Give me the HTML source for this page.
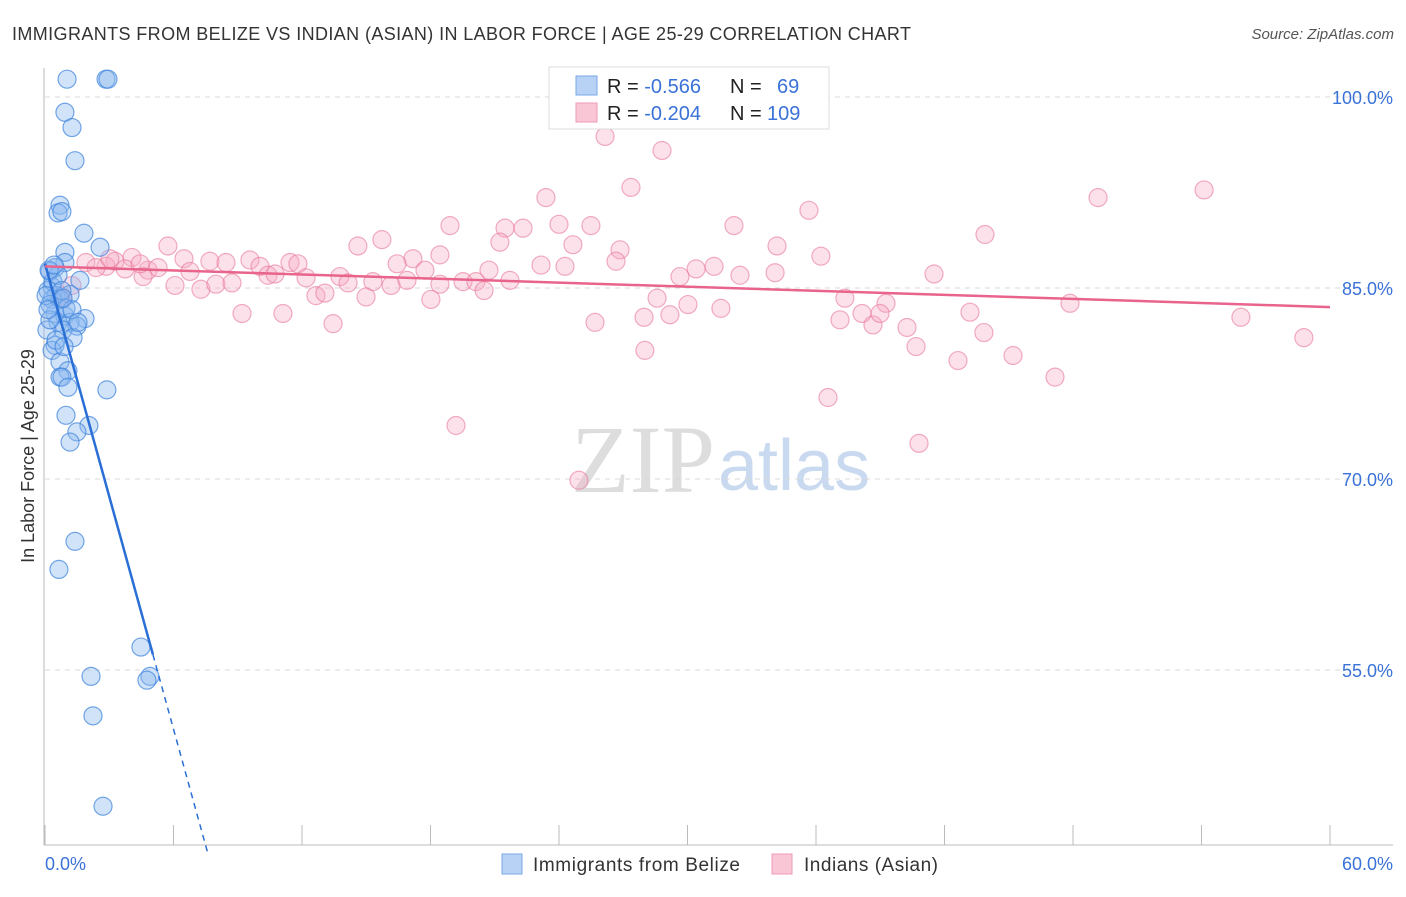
<!DOCTYPE html>
<html><head><meta charset="utf-8"><style>
body{margin:0;background:#fff;font-family:"Liberation Sans",sans-serif;}
svg text{font-family:"Liberation Sans",sans-serif;}
</style></head><body>
<svg id="chart" width="1406" height="892">
<text x="12" y="40" font-size="18" fill="#333" textLength="899" lengthAdjust="spacing">IMMIGRANTS FROM BELIZE VS INDIAN (ASIAN) IN LABOR FORCE | AGE 25-29 CORRELATION CHART</text>
<text x="1394" y="39" font-size="15" fill="#555" text-anchor="end" font-style="italic">Source: ZipAtlas.com</text>
<text x="715" y="492" font-size="96" fill="#ddd" text-anchor="end" style="font-family:'Liberation Serif',serif">ZIP</text>
<text x="718" y="490" font-size="72" fill="#c9daf0">atlas</text>
<g id="grid"></g>
<g id="axes"></g>
<g id="marks"></g>
<text transform="translate(34,456) rotate(-90)" font-size="18" fill="#333" text-anchor="middle">In Labor Force | Age 25-29</text>
<text x="45" y="870" font-size="18" fill="#3a72d8">0.0%</text>
<text x="1393" y="870" font-size="18" fill="#3a72d8" text-anchor="end">60.0%</text>
<g>
<rect x="549" y="67" width="280" height="62" fill="#fff" stroke="#ddd"/>
<rect x="576" y="76" width="21" height="19" fill="#b8d2f5" stroke="#7aa8e8"/>
<rect x="576" y="103" width="21" height="19" fill="#f9c6d6" stroke="#ee9ab5"/>
<text x="607" y="93" font-size="20" fill="#222">R = <tspan fill="#3a72d8">-0.566</tspan><tspan x="730">N = </tspan><tspan x="777" fill="#3a72d8">69</tspan></text>
<text x="607" y="120" font-size="20" fill="#222">R = <tspan fill="#3a72d8">-0.204</tspan><tspan x="730">N = </tspan><tspan x="767" fill="#3a72d8">109</tspan></text>
</g>
<g>
<rect x="502" y="854" width="20" height="20" fill="#b8d2f5" stroke="#7aa8e8"/>
<text x="533" y="871" font-size="19" fill="#333" textLength="207">Immigrants from Belize</text>
<rect x="772" y="854" width="20" height="20" fill="#f9c6d6" stroke="#ee9ab5"/>
<text x="804" y="871" font-size="19" fill="#333" textLength="134">Indians (Asian)</text>
</g>
</svg>
<script>
const yTicks=[100,85,70,55];
const yTickLabels=["100.0%","85.0%","70.0%","55.0%"];
const xTicks=[0,6,12,18,24,30,36,42,48,54,60];
const blueX=[1.03,2.85,2.94,0.93,1.26,1.40,0.70,0.61,0.79,1.82,2.57,0.93,0.93,0.47,1.63,0.23,0.33,0.51,1.17,0.33,0.70,0.47,0.93,1.87,0.61,1.17,1.49,0.84,1.31,0.47,0.33,0.70,1.07,0.70,0.79,1.07,2.89,0.98,2.05,1.49,1.17,1.40,0.65,4.48,2.15,4.90,4.76,2.24,2.71,0.14,0.23,0.09,0.23,0.37,0.61,0.05,0.19,0.79,0.98,1.26,1.54,0.51,0.89,0.14,0.42,0.84];
const blueY=[101.4,101.4,101.4,98.8,97.6,95.0,91.5,90.9,91.0,89.3,88.2,87.8,87.0,86.6,85.6,86.3,85.1,84.4,84.5,84.1,84.1,83.0,82.8,82.6,82.3,82.3,82.0,81.7,81.1,80.5,80.1,79.2,78.5,78.0,78.0,77.2,77.0,75.0,74.2,73.7,72.9,65.1,62.9,56.8,54.5,54.5,54.2,51.4,44.3,84.8,83.7,81.7,82.5,85.5,86.0,84.4,86.4,84.8,83.4,83.3,82.3,80.9,80.4,83.3,86.8,84.2];
const pinkX=[26.15,28.81,27.36,23.39,49.17,54.12,35.67,18.91,24.0,25.49,32.17,21.48,22.32,43.89,21.24,15.73,14.61,24.65,5.74,34.18,26.85,18.44,17.18,36.23,26.66,1.91,4.06,3.27,2.85,6.49,7.70,8.45,9.57,10.04,11.44,11.81,16.44,17.74,23.16,24.28,31.24,30.40,20.73,32.45,34.09,41.51,3.74,4.81,5.28,6.77,4.58,10.41,10.74,12.19,13.77,14.15,15.31,16.16,16.90,19.52,20.12,20.50,21.71,29.65,6.07,7.28,7.98,8.73,12.65,13.07,14.99,18.44,18.02,28.58,30.02,37.35,39.27,47.86,9.20,11.11,13.45,25.68,27.97,29.18,31.56,37.12,38.15,38.66,38.99,40.25,43.19,55.84,43.84,40.67,28.01,58.78,42.63,45.20,47.16,36.56,19.19,40.81,24.93,2.38,1.26,0.70,0.79,3.03,4.44];
const pinkY=[96.9,95.8,92.9,92.1,92.1,92.7,91.1,89.9,90.0,89.9,89.9,89.7,89.7,89.2,88.6,88.8,88.3,88.4,88.3,88.3,88.0,87.6,87.3,87.5,87.1,87.0,87.4,87.1,86.7,87.3,87.1,87.0,87.2,86.7,87.0,86.9,86.9,86.4,86.8,86.7,86.7,86.5,86.4,86.0,86.2,86.1,86.5,86.4,86.6,86.3,85.9,86.0,86.1,85.8,85.9,85.4,85.5,85.2,85.6,85.5,85.5,84.8,85.6,85.9,85.2,84.9,85.3,85.4,84.4,84.6,84.3,85.3,84.1,84.2,83.7,84.2,83.8,83.8,83.0,83.0,82.2,82.3,82.7,82.9,83.4,82.5,83.0,82.1,83.0,81.9,83.1,82.7,81.5,80.4,80.1,81.1,79.3,79.7,78.0,76.4,74.2,72.8,69.9,86.6,85.2,84.4,84.1,87.3,86.9];
const blueTrend=[86.9,-6.09];
const pinkTrend=[86.7,-0.0533];
const X0=45,X1=1330,YB=845;
const sx=v=>X0+v/60*(X1-X0);
const sy=v=>97+(100-v)*191/15;
const ns="http://www.w3.org/2000/svg";
function mk(tag,attrs,parent){const e=document.createElementNS(ns,tag);for(const k in attrs)e.setAttribute(k,attrs[k]);parent.appendChild(e);return e;}
const grid=document.getElementById('grid'),axes=document.getElementById('axes'),marks=document.getElementById('marks');
yTicks.forEach((t,i)=>{
 const l=mk('line',{x1:45,x2:1393,y1:sy(t),y2:sy(t),stroke:'#d8d8d8','stroke-dasharray':'5,5'},grid);
 
 
 const tx=mk('text',{x:1393,y:sy(t)+7,'font-size':18,fill:'#3a72d8','text-anchor':'end'},grid);
 tx.textContent=yTickLabels[i];
 
 
});
const ya=mk('line',{x1:44,x2:44,y1:68,y2:YB,stroke:'#bbb'},axes);


const xa=mk('line',{x1:44,x2:1393,y1:YB,y2:YB,stroke:'#bbb'},axes);


xTicks.forEach(t=>{
 const l=mk('line',{x1:sx(t),x2:sx(t),y1:825,y2:YB,stroke:'#bbb'},axes);
 
 
});
pinkX.forEach((x,i)=>{
 const c=mk('circle',{cx:sx(x),cy:sy(pinkY[i]),r:9,fill:'rgba(246,170,195,0.35)',stroke:'rgba(232,120,155,0.6)','stroke-width':1.2},marks);
 
 
});
blueX.forEach((x,i)=>{
 const c=mk('circle',{cx:sx(x),cy:sy(blueY[i]),r:9,fill:'rgba(140,185,240,0.4)',stroke:'rgba(60,130,220,0.7)','stroke-width':1.2},marks);
 
 
});
const bf=x=>blueTrend[0]+blueTrend[1]*x;
const bxEnd=5.04, bxBottom=(40.6-blueTrend[0])/blueTrend[1];
const bl=mk('line',{x1:sx(0),y1:sy(bf(0)),x2:sx(bxEnd),y2:sy(bf(bxEnd)),stroke:'#2a6fd6','stroke-width':2.5},marks);


const bd=mk('line',{x1:sx(bxEnd),y1:sy(bf(bxEnd)),x2:sx(bxBottom),y2:sy(bf(bxBottom)),stroke:'#2a6fd6','stroke-width':1.5,'stroke-dasharray':'6,5'},marks);


const pf=x=>pinkTrend[0]+pinkTrend[1]*x;
const pl=mk('line',{x1:sx(0),y1:sy(pf(0)),x2:sx(60),y2:sy(pf(60)),stroke:'#e8648c','stroke-width':2.5},marks);


</script>
</body></html>
